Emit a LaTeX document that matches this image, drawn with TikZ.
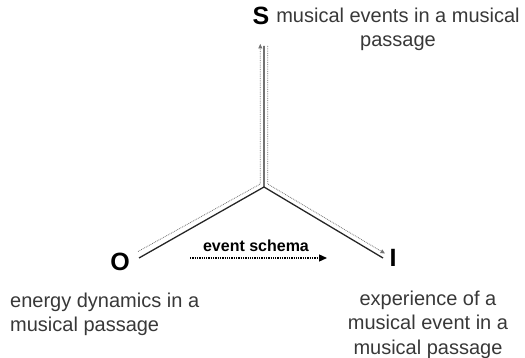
\documentclass[tikz,border=0pt]{standalone}
\usepackage{fontspec}
\setmainfont{Liberation Sans}
\usetikzlibrary{arrows.meta}
\begin{document}
\begin{tikzpicture}[x=1pt,y=-1pt,
  lbl/.style={font=\fontsize{20}{24.5}\selectfont, text=black!78, inner sep=0pt},
  letter/.style={font=\fontsize{25}{25}\selectfont\bfseries, inner sep=0pt},
  small/.style={font=\fontsize{16}{16}\selectfont\bfseries, inner sep=0pt},
  axis/.style={line width=1.3pt, black!85},
  flow/.style={line width=0.8pt, black!55, densely dotted},
  flowtip/.style={-{Triangle[length=4.5pt,width=4pt]}},
  schema/.style={line width=1.3pt, black, densely dotted, -{Triangle[length=8pt,width=7pt]}}
]
\useasboundingbox (0,0) rectangle (525,358);
% letters
\node[letter, anchor=base] (S) at (261,25) {S};
\node[letter, anchor=base] (O) at (120,270) {O};
\node[letter, anchor=base] (I) at (393,266) {I};
% texts (base anchor = baseline of last line)
\node[lbl, anchor=base, align=center] (St) at (398,47) {musical events in a musical\\passage};
\node[lbl, anchor=base west, align=left] (Ot) at (10,331.5) {energy dynamics in a\\musical passage};
\node[lbl, anchor=base, align=center] (It) at (428,354) {experience of a\\musical event in a\\musical passage};
% solid Y
\coordinate (C) at (264,187);
\coordinate (Stop) at (264,46);
\coordinate (Oend) at (139,258);
\coordinate (Iend) at (383,258);
\draw[axis] (Stop) -- (C) -- (Oend);
\draw[axis] (C) -- (Iend);
% gray flows
\coordinate (Lg1) at (138,251.5);
\coordinate (Lg2) at (260.3,184);
\coordinate (Lg3) at (260.3,44);
\coordinate (Rg1) at (267.7,46);
\coordinate (Rg2) at (267.7,184);
\coordinate (Rg3) at (385,253.5);
\draw[flow, flowtip] (Lg1) -- (Lg2) -- (Lg3);
\draw[flow, flowtip] (Rg1) -- (Rg2) -- (Rg3);
% event schema
\node[small, anchor=base] (es) at (256,252) {event schema};
\coordinate (es1) at (190,258);
\coordinate (es2) at (327,258);
\draw[schema] (es1) -- (es2);
\end{tikzpicture}
\end{document}
